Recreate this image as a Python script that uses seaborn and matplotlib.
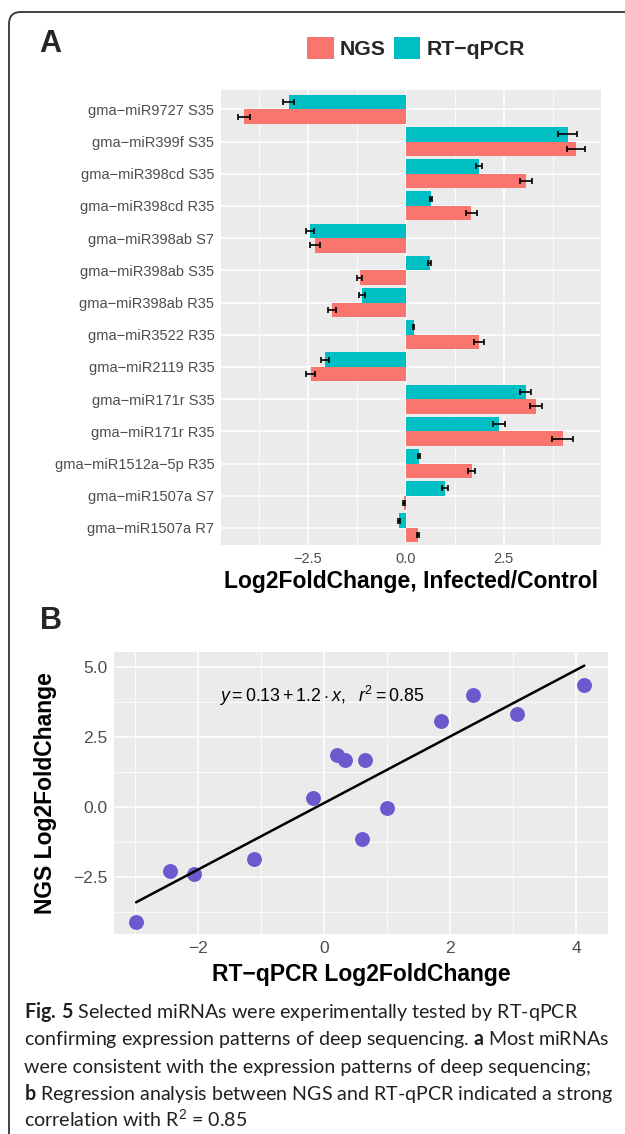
import pandas as pd
import matplotlib
matplotlib.use("Agg")
import matplotlib.pyplot as plt
import seaborn as sns
from matplotlib import font_manager
from matplotlib.patches import Patch, FancyBboxPatch
from matplotlib.transforms import IdentityTransform

# ---- data ----
mirnas = ["gma−miR9727 S35", "gma−miR399f S35", "gma−miR398cd S35", "gma−miR398cd R35",
          "gma−miR398ab S7", "gma−miR398ab S35", "gma−miR398ab R35", "gma−miR3522 R35",
          "gma−miR2119 R35", "gma−miR171r S35", "gma−miR171r R35", "gma−miR1512a−5p R35",
          "gma−miR1507a S7", "gma−miR1507a R7"]
ngs = [-4.12, 4.34, 3.06, 1.67, -2.31, -1.17, -1.88, 1.86, -2.42, 3.32, 4.00, 1.68, -0.04, 0.31]
ngs_err = [0.15, 0.23, 0.15, 0.14, 0.12, 0.06, 0.09, 0.13, 0.11, 0.15, 0.27, 0.09, 0.02, 0.03]
qpcr = [-2.98, 4.13, 1.86, 0.65, -2.44, 0.61, -1.11, 0.20, -2.06, 3.06, 2.37, 0.34, 1.00, -0.17]
qpcr_err = [0.14, 0.24, 0.08, 0.03, 0.09, 0.03, 0.07, 0.02, 0.11, 0.14, 0.15, 0.03, 0.07, 0.03]

methods = ["NGS", "RT−qPCR"]
colors = {"NGS": "#F8766D", "RT−qPCR": "#00BFC4"}

W, H = 625, 1134

sns.set_theme(style="darkgrid", rc={"axes.facecolor": "#EBEBEB", "grid.color": "white"})
plt.rcParams["font.family"] = ["Liberation Sans", "DejaVu Sans"]

installed = {f.name for f in font_manager.fontManager.ttflist}
cap_font = "Liberation Sans Narrow" if "Liberation Sans Narrow" in installed else "Lato"

plt.rcParams["mathtext.fontset"] = "custom"
plt.rcParams["mathtext.rm"] = "Liberation Sans"
plt.rcParams["mathtext.it"] = "Liberation Sans:italic"
plt.rcParams["mathtext.bf"] = cap_font + ":bold"

fig = plt.figure(figsize=(W / 100, H / 100), dpi=100)

# ---- panel A: grouped horizontal bars ----
df = pd.DataFrame({
    "miRNA": mirnas * 2,
    "method": ["NGS"] * len(mirnas) + ["RT−qPCR"] * len(mirnas),
    "value": ngs + qpcr,
})
errs = {"NGS": ngs_err, "RT−qPCR": qpcr_err}

ax1 = fig.add_axes([221 / W, 1 - 545 / H, 380 / W, 455 / H])
sns.barplot(data=df, y="miRNA", x="value", hue="method", order=mirnas,
            hue_order=["RT−qPCR", "NGS"], palette=colors, errorbar=None,
            width=0.9, saturation=1, linewidth=0, legend=False, ax=ax1)

for cont, m in zip(ax1.containers, ["RT−qPCR", "NGS"]):
    xs, ys, es = [], [], []
    for bar in cont:
        yc = bar.get_y() + bar.get_height() / 2
        xs.append(bar.get_x() + bar.get_width())
        ys.append(yc)
        es.append(errs[m][int(round(yc))])
    ax1.errorbar(xs, ys, xerr=es, fmt="none", ecolor="black", elinewidth=1.2,
                 capsize=2.2, capthick=1.2, zorder=5)

ax1.set_xlim(-4.71, 4.98)
ax1.set_ylim(len(mirnas) - 1 + 0.53, -0.6)
ax1.set_xticks([-2.5, 0, 2.5], labels=["−2.5", "0.0", "2.5"])
ax1.set_xticks([-3.75, -1.25, 1.25, 3.75], minor=True)
ax1.grid(which="major", axis="both", color="white", lw=1.1)
ax1.grid(which="minor", axis="x", color="white", lw=0.55)
ax1.set_axisbelow(True)
ax1.tick_params(which="minor", length=0)
ax1.tick_params(which="major", length=2.7, width=0.8, color="#333333",
                labelcolor="#4D4D4D", labelsize=10.5, pad=2)
for s in ax1.spines.values():
    s.set_visible(False)
ax1.set_ylabel("")
ax1.set_xlabel("Log2FoldChange, Infected/Control", fontsize=16.5, fontweight="bold", color="black")
ax1.xaxis.set_label_coords(0.5, -(582 - 545) / 455)
ax1.xaxis.label.set_va("center")

handles = [Patch(facecolor=colors[m], edgecolor="none") for m in methods]
fig.legend(handles, methods, loc="center", bbox_to_anchor=(416 / W, 1 - 48 / H), ncol=2,
           frameon=False, prop={"weight": "bold", "size": 15.3}, handlelength=1.24,
           handleheight=1.24, handletextpad=0.3, columnspacing=0.35, borderaxespad=0)

fig.text(39 / W, 1 - 44 / H, "A", fontsize=22, fontweight="bold", ha="left", va="center")
fig.text(40 / W, 1 - 621 / H, "B", fontsize=22, fontweight="bold", ha="left", va="center")

# ---- panel B: regression ----
ax2 = fig.add_axes([114 / W, 1 - 934 / H, 493.7 / W, 282.3 / H])
sns.regplot(x=qpcr, y=ngs, ci=None, ax=ax2,
            scatter_kws={"s": 115, "color": "#6A5ACD", "alpha": 1, "linewidths": 0, "zorder": 3},
            line_kws={"color": "black", "lw": 1.8, "zorder": 4})
ax2.set_xlim(-3.33, 4.50)
ax2.set_ylim(-4.55, 5.54)
ax2.set_xticks([-2, 0, 2, 4], labels=["−2", "0", "2", "4"])
ax2.set_xticks([-3, -1, 1, 3], minor=True)
ax2.set_yticks([-2.5, 0, 2.5, 5], labels=["−2.5", "0.0", "2.5", "5.0"])
ax2.set_yticks([-3.75, -1.25, 1.25, 3.75], minor=True)
ax2.grid(which="major", color="white", lw=1.1)
ax2.grid(which="minor", color="white", lw=0.55)
ax2.set_axisbelow(True)
ax2.tick_params(which="minor", length=0)
ax2.tick_params(which="major", length=2.7, width=0.8, color="#333333",
                labelcolor="#4D4D4D", labelsize=12.5, pad=2)
for s in ax2.spines.values():
    s.set_visible(False)
ax2.set_xlabel("RT−qPCR Log2FoldChange", fontsize=16.5, fontweight="bold", color="black")
ax2.set_ylabel("NGS Log2FoldChange", fontsize=16.5, fontweight="bold", color="black")
ax2.xaxis.set_label_coords(0.5, -(975 - 934) / 282.3)
ax2.xaxis.label.set_va("center")
ax2.yaxis.set_label_coords(-(114 - 46) / 493.7, 0.5)
ax2.yaxis.label.set_va("center")

ax2.text(-1.67, 3.95, r"$y = 0.13 + 1.2 \cdot x,\ \ r^2 = 0.85$", fontsize=12.8,
         ha="left", va="center", color="black")

# ---- caption ----
caption = [
    r"$\mathbf{Fig.\,5}$ Selected miRNAs were experimentally tested by RT-qPCR",
    r"confirming expression patterns of deep sequencing. $\mathbf{a}$ Most miRNAs",
    r"were consistent with the expression patterns of deep sequencing;",
    r"$\mathbf{b}$ Regression analysis between NGS and RT-qPCR indicated a strong",
    r"correlation with R$^2$ = 0.85",
]
cap_size = 15.4 if cap_font == "Liberation Sans Narrow" else 14.1
for i, line in enumerate(caption):
    fig.text(24 / W, 1 - (1018 + 27.3 * i) / H, line, fontsize=cap_size, family=cap_font,
             color="#231F20", ha="left", va="baseline")

# ---- rounded frame ----
frame = FancyBboxPatch((9, -200), 800, H - 12 + 200, boxstyle="round,pad=0,rounding_size=12",
                       transform=IdentityTransform(), facecolor="none", edgecolor="#333333", lw=1.3)
fig.patches.append(frame)

fig.savefig("out.png", dpi=100)
